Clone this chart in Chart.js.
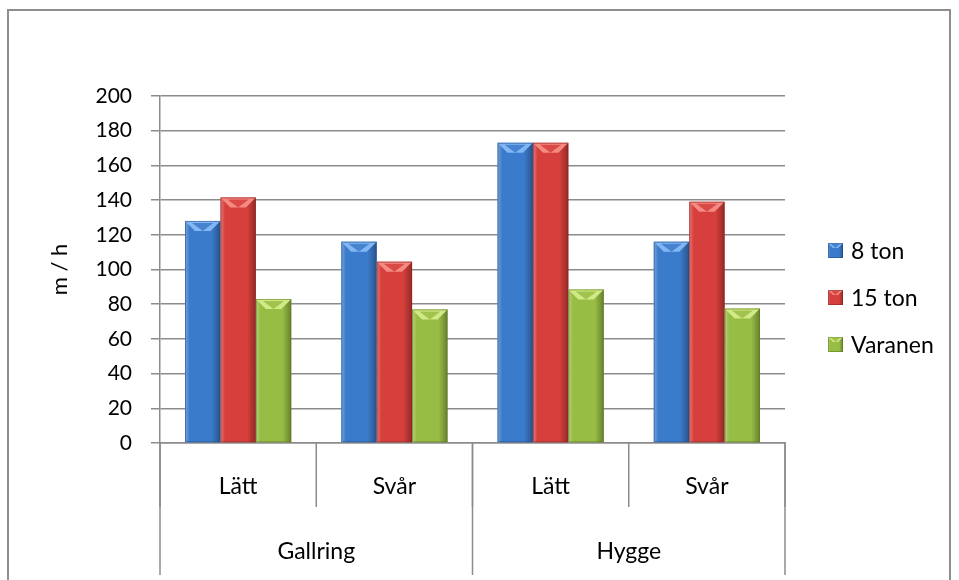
<!DOCTYPE html>
<html>
<head>
<meta charset="utf-8">
<title>m / h</title>
<style>
  html, body { margin: 0; padding: 0; background: #ffffff; }
  #wrap { width: 959px; height: 580px; position: relative; }
  canvas { display: block; }
</style>
<script src="https://cdn.jsdelivr.net/npm/chart.js@4.4.1/dist/chart.umd.min.js"></script>
</head>
<body>
<div id="wrap"><canvas id="chart" width="959" height="580"></canvas></div>
<script>
// Category levels on the x axis
const subCategories = ['Lätt', 'Svår', 'Lätt', 'Svår'];
const groupLabels = ['Gallring', 'Hygge'];
const groupSpans = [2, 2];

// Series
const seriesNames = ['8 ton', '15 ton', 'Varanen'];
const ton8 = [128, 116, 173, 116];
const ton15 = [141.5, 104.5, 173, 139];
const varanen = [83, 77, 88.5, 77.5];

// Value axis
const yMin = 0;
const yMax = 200;
const yStep = 20;
const yTitle = 'm / h';

const FONT = 'Lato, "Open Sans", "Liberation Sans", sans-serif';
const GRID = '#8c8c8c';

const palette = [
  { base: '#3b7bcb', light: '#82b7f4', dark: '#1d4b88' },
  { base: '#d63f3b', light: '#f58a83', dark: '#8a2320' },
  { base: '#98bd45', light: '#d2ea86', dark: '#5b7720' }
];

// Bevelled look for a rectangular bar
function bevel(ctx, x0, x1, top, bottom, c, depth) {
  const w = x1 - x0, h = bottom - top;
  if (h <= 0 || w <= 0) return;
  ctx.save();
  const g = ctx.createLinearGradient(x0, 0, x1, 0);
  g.addColorStop(0, 'rgba(255,255,255,0.32)');
  g.addColorStop(0.13, 'rgba(255,255,255,0)');
  g.addColorStop(0.75, 'rgba(0,0,0,0)');
  g.addColorStop(1, 'rgba(0,0,0,0.32)');
  ctx.fillStyle = g;
  ctx.fillRect(x0, top, w, h);

  const d = Math.min(depth, h / 2, w / 2);
  const cx = (x0 + x1) / 2;
  // top face
  ctx.beginPath();
  ctx.moveTo(x0, top);
  ctx.lineTo(x1, top);
  ctx.lineTo(x1 - d, top + d);
  ctx.lineTo(x0 + d, top + d);
  ctx.closePath();
  ctx.fillStyle = c.light;
  ctx.fill();
  // central notch of the top face
  const vg = ctx.createLinearGradient(0, top, 0, top + d);
  vg.addColorStop(0, c.base);
  vg.addColorStop(1, c.base);
  ctx.beginPath();
  ctx.moveTo(x0 + w * 0.2, top + Math.min(2, d * 0.2));
  ctx.lineTo(x1 - w * 0.2, top + Math.min(2, d * 0.2));
  ctx.lineTo(cx, top + d);
  ctx.closePath();
  ctx.fillStyle = vg;
  ctx.globalAlpha = 0.85;
  ctx.fill();
  ctx.globalAlpha = 1;

  ctx.strokeStyle = c.dark;
  ctx.globalAlpha = 0.55;
  ctx.lineWidth = 1;
  ctx.strokeRect(x0 + 0.5, top + 0.5, w - 1, h - 1);
  ctx.restore();
}

// Chart frame and white background
const framePlugin = {
  id: 'frame',
  beforeDraw(chart) {
    const { ctx, width, height } = chart;
    ctx.save();
    ctx.fillStyle = '#ffffff';
    ctx.fillRect(0, 0, width, height);
    ctx.strokeStyle = '#8e8e8e';
    ctx.lineWidth = 2;
    ctx.beginPath();
    ctx.moveTo(8, height);
    ctx.lineTo(8, 10);
    ctx.lineTo(950, 10);
    ctx.lineTo(950, height);
    ctx.stroke();
    ctx.restore();
  }
};

// Bevel overlay on every bar, using the bar geometry from Chart.js
const bevelPlugin = {
  id: 'bevel',
  afterDatasetsDraw(chart) {
    const ctx = chart.ctx;
    chart.data.datasets.forEach((ds, di) => {
      const meta = chart.getDatasetMeta(di);
      if (meta.hidden) return;
      meta.data.forEach(bar => {
        const { x, y, base, width } = bar.getProps(['x', 'y', 'base', 'width'], true);
        bevel(ctx, x - width / 2, x + width / 2, Math.min(y, base), Math.max(y, base), palette[di], 10);
      });
    });
  }
};

// Two-level category labels beneath the x axis
const categoryPlugin = {
  id: 'categoryLevels',
  afterDraw(chart) {
    const { ctx, chartArea: { left, right, bottom }, scales: { x } } = chart;
    const n = subCategories.length;
    const px = i => x.getPixelForValue(i);
    const edge = i => (i === 0 ? left : i === n ? right : (px(i - 1) + px(i)) / 2);
    ctx.save();
    ctx.strokeStyle = GRID;
    ctx.lineWidth = 1.5;
    for (let i = 0; i <= n; i++) {
      ctx.beginPath();
      ctx.moveTo(edge(i), bottom);
      ctx.lineTo(edge(i), bottom + 64);
      ctx.stroke();
    }
    let start = 0;
    const groupEdges = [0];
    groupSpans.forEach(s => { start += s; groupEdges.push(start); });
    groupEdges.forEach(i => {
      ctx.beginPath();
      ctx.moveTo(edge(i), bottom);
      ctx.lineTo(edge(i), bottom + 132);
      ctx.stroke();
    });
    ctx.fillStyle = '#000000';
    ctx.textAlign = 'center';
    ctx.textBaseline = 'middle';
    ctx.font = '23px ' + FONT;
    subCategories.forEach((lab, i) => ctx.fillText(lab, px(i), bottom + 44));
    groupLabels.forEach((lab, g) => {
      const c = (edge(groupEdges[g]) + edge(groupEdges[g + 1])) / 2;
      ctx.fillText(lab, c, bottom + 109);
    });
    ctx.restore();
  }
};

// Legend on the right
const legendPlugin = {
  id: 'sideLegend',
  afterDraw(chart) {
    const { ctx, chartArea: { right, top, bottom } } = chart;
    const rowGap = 47;
    const n = chart.data.datasets.length;
    const mid = (top + bottom) / 2 + 28;
    ctx.save();
    ctx.font = '23px ' + FONT;
    ctx.textBaseline = 'middle';
    ctx.textAlign = 'left';
    chart.data.datasets.forEach((ds, i) => {
      const cy = mid + (i - (n - 1) / 2) * rowGap;
      const bx = right + 43;
      ctx.fillStyle = palette[i].base;
      ctx.fillRect(bx, cy - 7.5, 15, 15);
      bevel(ctx, bx, bx + 15, cy - 7.5, cy + 7.5, palette[i], 5);
      ctx.fillStyle = '#000000';
      ctx.fillText(ds.label, bx + 23, cy + 1);
    });
    ctx.restore();
  }
};

const datasets = [ton8, ton15, varanen].map((vals, i) => ({
  label: seriesNames[i],
  data: vals,
  backgroundColor: palette[i].base,
  borderWidth: 0,
  categoryPercentage: 0.68,
  barPercentage: 1.0
}));

new Chart(document.getElementById('chart'), {
  type: 'bar',
  data: { labels: subCategories, datasets },
  options: {
    responsive: false,
    animation: false,
    devicePixelRatio: 1,
    layout: { padding: { left: 10, top: 96, right: 174, bottom: 0 } },
    plugins: {
      legend: { display: false },
      tooltip: { enabled: false }
    },
    scales: {
      x: {
        grid: { display: false },
        border: { display: true, color: GRID, width: 1.5 },
        ticks: { display: false },
        afterFit(scale) { scale.height = 137; }
      },
      y: {
        min: yMin,
        max: yMax,
        ticks: {
          stepSize: yStep,
          color: '#000000',
          padding: 19,
          font: { family: FONT, size: 21 }
        },
        grid: { color: GRID, lineWidth: 1.5, tickLength: 9 },
        border: { display: true, color: GRID, width: 1.5 },
        title: {
          display: true,
          text: yTitle,
          color: '#000000',
          font: { family: FONT, size: 22 },
          padding: { top: 37, bottom: 0 }
        },
        afterFit(scale) { scale.width = 150; }
      }
    }
  },
  plugins: [framePlugin, bevelPlugin, categoryPlugin, legendPlugin]
});
</script>
</body>
</html>
